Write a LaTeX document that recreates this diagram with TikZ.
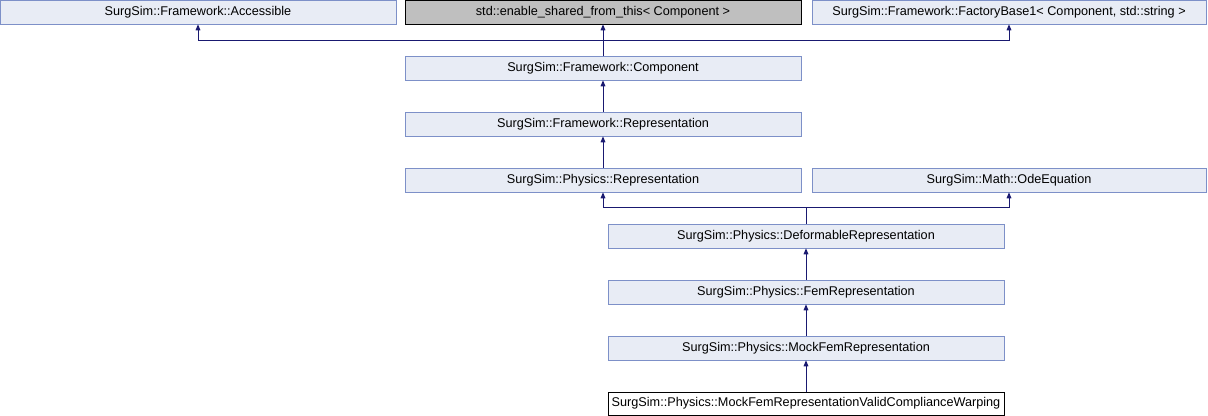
\documentclass[tikz,border=0pt]{standalone}
\usepackage{fontspec}
\setmainfont{Liberation Sans}
\usepackage{xcolor}
\usetikzlibrary{arrows.meta, positioning}

\definecolor{clsfill}{HTML}{E8ECF5}
\definecolor{clsline}{HTML}{7D90C8}
\definecolor{basefill}{HTML}{BFBFBF}
\definecolor{edgeblue}{HTML}{191970}

\tikzset{
  cls/.style={draw=clsline, fill=clsfill, minimum width=297pt, minimum height=18pt,
    inner sep=0pt, font=\fontsize{9.5}{11}\selectfont},
  basecls/.style={cls, draw=black, fill=basefill},
  thiscls/.style={cls, draw=black, fill=white},
  inherit/.style={draw=edgeblue, line width=0.75pt, -{Triangle[length=4.5pt,width=3.5pt]}}
}

\begin{document}
\begin{tikzpicture}[x=0.75pt, y=-0.75pt]
			\useasboundingbox (0,0) rectangle (1208,416);
			
			\node[cls] (acc) at (198,12) {SurgSim::Framework::Accessible};
			\node[basecls] (shared) at (603,12) {std::enable\_shared\_from\_this< Component >};
			\node[cls, minimum width=295.5pt] (factory) at (1009,12) {SurgSim::Framework::FactoryBase1< Component, std::string >};
			
			\node[cls] (comp) at (603,68) {SurgSim::Framework::Component};
			\node[cls] (frep) at (603,124) {SurgSim::Framework::Representation};
			\node[cls] (prep) at (603,180) {SurgSim::Physics::Representation};
			\node[cls, minimum width=295.5pt] (ode) at (1009,180) {SurgSim::Math::OdeEquation};
			
			\node[cls] (defo) at (806,236) {SurgSim::Physics::DeformableRepresentation};
			\node[cls] (fem) at (806,292) {SurgSim::Physics::FemRepresentation};
			\node[cls] (mock) at (806,348) {SurgSim::Physics::MockFemRepresentation};
			\node[thiscls, minimum height=17.25pt] (valid) at (806,403.5) {SurgSim::Physics::MockFemRepresentationValidComplianceWarping};
			
			\coordinate (top) at (603,41);
			\coordinate (mid) at (806,208);
			
			\draw[inherit] (comp.north) -- (top) -| (acc.south);
			\draw[inherit] (top) -- (shared.south);
			\draw[inherit] (top) -| (factory.south);
			
			\draw[inherit] (frep) -- (comp);
			\draw[inherit] (prep) -- (frep);
			
			\draw[inherit] (defo.north) -- (mid) -| (prep.south);
			\draw[inherit] (mid) -| (ode.south);
			
			\draw[inherit] (fem) -- (defo);
			\draw[inherit] (mock) -- (fem);
			\draw[inherit] (valid) -- (mock);
		\end{tikzpicture}
\end{document}
